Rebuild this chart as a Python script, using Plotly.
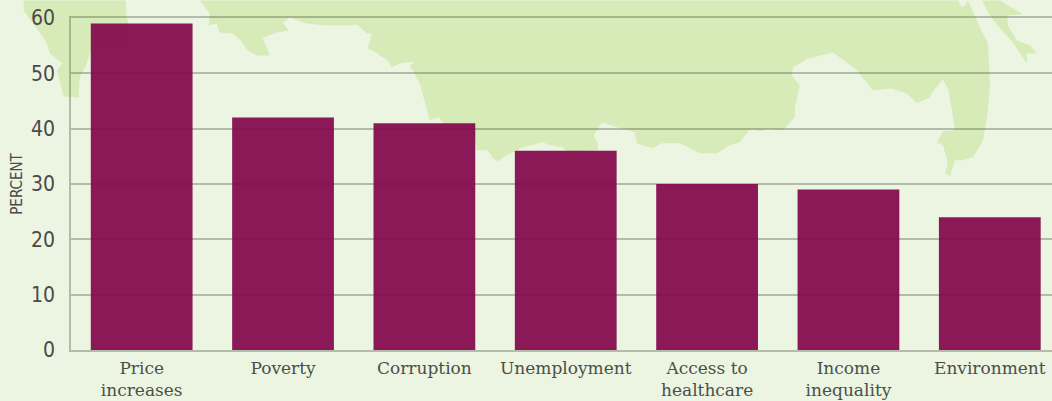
import plotly.graph_objects as go

categories = ["Price<br>increases", "Poverty", "Corruption", "Unemployment",
              "Access to<br>healthcare", "Income<br>inequality", "Environment"]
values = [59, 42, 41, 36, 30, 29, 24]
y_ticks = [0, 10, 20, 30, 40, 50, 60]

# Decorative map outline, traced in screen pixels
map_left = [(24,0),(24,10),(37,28),(47,42),(50,53),(63,63),(57,70),(60,80),(64,96),(79,97),(80,77),(87,63),(91,50),(115,45),(127,42),(131,30),(127,17),(126,0)]
map_main = [(200,0),(210,13),(209,25),(217,23),(220,32),(233,33),(240,39),(248,50),(257,55),(270,55),(263,37),(277,32),(289,30),(283,22),(290,17),(307,23),(327,25),(350,25),
            (350,25),(357,24),(367,33),(372,33),(368,48),(377,52),(380,55),(388,60),(392,67),(400,63),(415,61),(410,65),(420,83),(428,113),(430,120),(440,117),(442,122),(465,128),(475,135),(477,150),(488,150),(493,158),(498,161),(507,155),(523,147),(543,142),(550,145),(563,147),(567,152),(598,150),(598,143),(594,135),(602,122),(617,127),(635,132),(637,143),(652,148),(662,143),(680,143),(690,148),(700,153),
            (717,153),(730,145),(740,142),(750,129),(762,131),(768,128),(783,130),(795,117),(795,107),(800,85),(792,75),(793,67),(808,58),(833,52),(847,62),(857,70),(873,90),(892,88),(907,93),(917,103),(930,97),(932,92),(943,79),(948,88),(952,110),(955,130),(943,131),(937,142),(943,145),(948,163),(945,173),(950,176),(955,160),(962,160),(973,157),(983,140),(987,117),(990,87),(988,43),(980,27),(968,0),(965,5),(962,7),(958,0)]
map_right = [(982,0),(990,15),(1002,30),(1013,42),(1020,53),(1027,63),(1027,53),(1037,53),(1030,45),(1025,43),(1017,40),(1008,25),(1007,15),(1023,14),(1000,0)]

X0, X1, Y0, Y1 = 71.3, 1052.0, 350.0, 17.5
LINE = "rgba(70,80,60,0.34)"

def path(points):
    coords = [((x - X0) / (X1 - X0), (Y0 - y) / (Y0 - Y1)) for x, y in points]
    return "M" + "L".join(f"{a:.5f},{b:.5f}" for a, b in coords) + "Z"

fig = go.Figure(go.Bar(
    x=categories, y=values,
    marker=dict(color="rgba(131,7,78,0.93)", line=dict(width=0)),
    hoverinfo="x+y",
))
for pts in (map_left, map_main, map_right):
    fig.add_shape(type="path", path=path(pts), xref="paper", yref="paper",
                  fillcolor="#d6ebb8", line=dict(width=0), layer="below")

fig.update_layout(
    width=1052, height=401,
    margin=dict(l=71.3, r=0, t=17.5, b=51, autoexpand=False),
    paper_bgcolor="#ecf5e2", plot_bgcolor="rgba(0,0,0,0)",
    bargap=0.28, showlegend=False,
    xaxis=dict(range=[-0.5, 6.44], showline=True, mirror=True, linecolor=LINE, linewidth=1.5,
               showgrid=False, ticks="", ticklabelstandoff=2,
               tickfont=dict(family="DejaVu Serif", size=17, color="#4a4f4a")),
    yaxis=dict(range=[0, 60], tickvals=y_ticks, showgrid=True,
               gridcolor=LINE, gridwidth=1.5,
               showline=True, linecolor=LINE, linewidth=1.5,
               zeroline=False,
               ticks="", ticklabelstandoff=10,
               tickfont=dict(family="DejaVu Sans Condensed, Roboto", size=21, color="#4a4a4a"),
               title=dict(text="PERCENT", standoff=5,
                          font=dict(family="DejaVu Sans Condensed, Roboto", size=15, color="#4a4a4a"))),
)
fig.write_html("out.html", config={"displayModeBar": False},
               post_script="document.body.style.margin='0';document.documentElement.style.overflow='hidden';")
